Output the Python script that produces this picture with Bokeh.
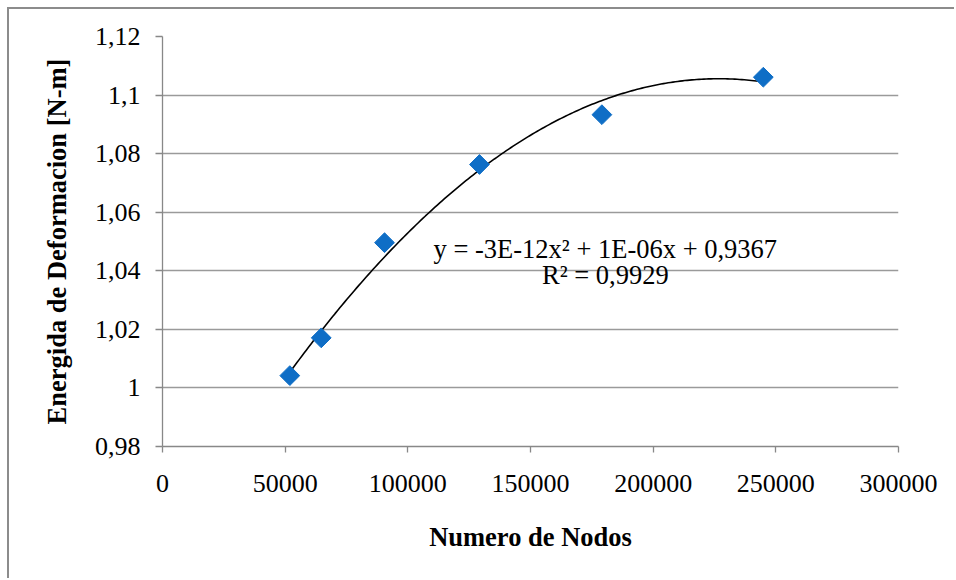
import numpy as np
from bokeh.plotting import figure
from bokeh.models import (Range1d, FixedTicker, CustomJSTickFormatter, Label,
                          ColumnDataSource)
from bokeh.embed import file_html
from bokeh.resources import INLINE

# ---- data ----
nodos = [51900, 64700, 90500, 129200, 179100, 244900]
energia = [1.0042, 1.0171, 1.0496, 1.0763, 1.0933, 1.1061]
x_ticks = [0, 50000, 100000, 150000, 200000, 250000, 300000]
y_ticks = [0.98, 1.0, 1.02, 1.04, 1.06, 1.08, 1.10, 1.12]
ecuacion = "y = -3E-12x² + 1E-06x + 0,9367"
r2_text = "R² = 0,9929"
x_title = "Numero de Nodos"
y_title = "Energida de Deformacion [N-m]"

FONT = "Liberation Serif"
OFF = 9  # outer margin + border of the chart area

p = figure(width=956 - OFF, height=580 - OFF, output_backend="svg",
           toolbar_location=None,
           x_range=Range1d(0, 300000), y_range=Range1d(0.98, 1.12),
           min_border_left=162 - OFF, min_border_right=58,
           min_border_top=36 - OFF, min_border_bottom=134,
           styles={"margin-left": "7px", "margin-top": "7px",
                   "border-left": "2px solid #8c8c8c",
                   "border-top": "2px solid #8c8c8c"})
p.outline_line_color = None
p.background_fill_color = "white"
p.border_fill_color = "white"

# grid
p.xgrid.grid_line_color = None
p.ygrid.grid_line_color = "#9a9a9a"
p.ygrid.grid_line_width = 1.3
p.ygrid.ticker = FixedTicker(ticks=y_ticks)

# axes
p.xaxis.ticker = FixedTicker(ticks=x_ticks)
p.yaxis.ticker = FixedTicker(ticks=y_ticks)
p.xaxis.formatter = CustomJSTickFormatter(code="return tick.toFixed(0);")
p.yaxis.formatter = CustomJSTickFormatter(
    code="var s = tick.toFixed(2); s = s.replace(/0+$/, '').replace(/\\.$/, ''); return s.replace('.', ',');")
for ax in (p.xaxis[0], p.yaxis[0]):
    ax.axis_line_color = "#888888"
    ax.axis_line_width = 1.3
    ax.major_tick_line_color = "#888888"
    ax.major_tick_line_width = 1.3
    ax.major_tick_in = 0
    ax.minor_tick_line_color = None
    ax.major_label_text_font = FONT
    ax.major_label_text_font_size = "26px"
    ax.major_label_text_color = "black"
    ax.axis_label_text_font = FONT
    ax.axis_label_text_font_size = "26.5px"
    ax.axis_label_text_font_style = "bold"
    ax.axis_label_text_color = "black"
p.xaxis.major_tick_out = 6
p.yaxis.major_tick_out = 7
p.xaxis.major_label_standoff = 22
p.yaxis.major_label_standoff = 15
p.xaxis.axis_label = x_title
p.yaxis.axis_label = y_title
p.xaxis.axis_label_standoff = 27
p.yaxis.axis_label_standoff = 20

# trendline (2nd-order polynomial fit of the data)
coef = np.polyfit(nodos, energia, 2)
xs = np.linspace(nodos[0], nodos[-1], 200)
ys = np.polyval(coef, xs)
p.line(xs, ys, line_color="black", line_width=1.6)

# points
src = ColumnDataSource(dict(x=nodos, y=energia))
p.scatter("x", "y", source=src, marker="square", size=14, angle=np.pi / 4,
          fill_color="#0F6EC6", line_color="#0F6EC6")

# equation labels
p.add_layout(Label(x=180500, y=1.0476, text=ecuacion, text_align="center",
                   text_baseline="alphabetic", text_font=FONT,
                   text_font_size="26.5px", text_color="black"))
p.add_layout(Label(x=180500, y=1.0384, text=r2_text, text_align="center",
                   text_baseline="alphabetic", text_font=FONT,
                   text_font_size="26.5px", text_color="black"))

open("out.html", "w").write(file_html(p, INLINE))
